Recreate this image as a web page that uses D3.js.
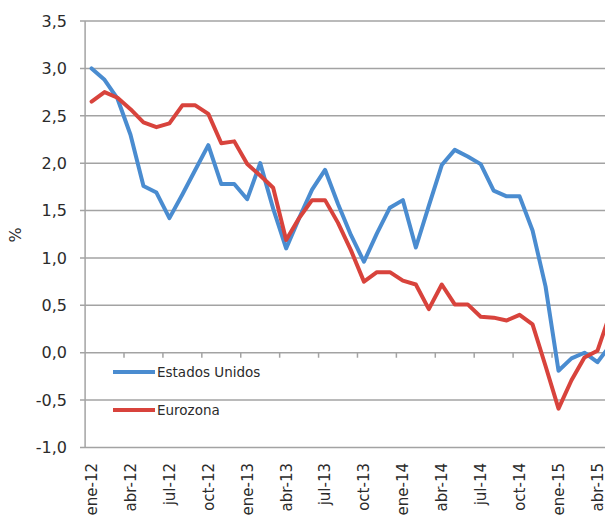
<!DOCTYPE html>
<html>
<head>
<meta charset="utf-8">
<script src="https://cdn.jsdelivr.net/npm/d3@7"></script>
<style>
  html, body { margin: 0; padding: 0; background: #fff; overflow: hidden; }
  svg { display: block; }
</style>
</head>
<body>
<div id="chart"></div>
<script>
const months = [
  "ene-12","feb-12","mar-12","abr-12","may-12","jun-12","jul-12","ago-12","sep-12","oct-12","nov-12","dic-12",
  "ene-13","feb-13","mar-13","abr-13","may-13","jun-13","jul-13","ago-13","sep-13","oct-13","nov-13","dic-13",
  "ene-14","feb-14","mar-14","abr-14","may-14","jun-14","jul-14","ago-14","sep-14","oct-14","nov-14","dic-14",
  "ene-15","feb-15","mar-15","abr-15","may-15"
];
const estadosUnidos = [
  3.00, 2.88, 2.68, 2.30, 1.76, 1.69, 1.42, 1.67, 1.93, 2.19, 1.78, 1.78,
  1.62, 2.00, 1.52, 1.10, 1.42, 1.72, 1.93, 1.57, 1.24, 0.96, 1.26, 1.53,
  1.61, 1.11, 1.55, 1.98, 2.14, 2.07, 1.99, 1.71, 1.65, 1.65, 1.29, 0.70,
  -0.19, -0.06, 0.00, -0.10, 0.08
];
const eurozona = [
  2.65, 2.75, 2.69, 2.57, 2.43, 2.38, 2.42, 2.61, 2.61, 2.52, 2.21, 2.23,
  1.99, 1.87, 1.74, 1.19, 1.42, 1.61, 1.61, 1.37, 1.08, 0.75, 0.85, 0.85,
  0.76, 0.72, 0.46, 0.72, 0.51, 0.51, 0.38, 0.37, 0.34, 0.40, 0.30, -0.14,
  -0.59, -0.29, -0.05, 0.02, 0.42
];
const yTicks = [-1.0, -0.5, 0.0, 0.5, 1.0, 1.5, 2.0, 2.5, 3.0, 3.5];
const seriesNames = ["Estados Unidos", "Eurozona"];
const seriesColors = ["#4a8cd0", "#d8433c"];

const W = 605, H = 518;
const plotLeft = 85.1, monthW = 12.97;
const svg = d3.select("#chart").append("svg").attr("width", W).attr("height", H);

const x = d3.scaleBand().domain(months).range([plotLeft, plotLeft + months.length * monthW]).padding(0);
const y = d3.scaleLinear().domain([-1, 3.5]).range([447.5, 21]);
const cx = m => x(m) + x.bandwidth() / 2;
const fmt = v => d3.format(".1f")(v).replace(".", ",").replace("−", "-");

const font = "DejaVu Sans";
const textColor = "#2b2b2b";
const gridColor = "#a3a3a3";

// gridlines + y ticks
svg.append("g").selectAll("line").data(yTicks).join("line")
  .attr("x1", 80).attr("x2", W)
  .attr("y1", d => y(d)).attr("y2", d => y(d))
  .attr("stroke", gridColor).attr("stroke-width", 1.5);

// y axis line
svg.append("line")
  .attr("x1", plotLeft).attr("x2", plotLeft)
  .attr("y1", y(3.5)).attr("y2", y(-1))
  .attr("stroke", gridColor).attr("stroke-width", 1.5);

// y tick labels
svg.append("g").selectAll("text").data(yTicks).join("text")
  .attr("x", 67).attr("y", d => y(d)).attr("dy", "0.36em")
  .attr("text-anchor", "end")
  .attr("font-family", font).attr("font-size", 16)
  .attr("fill", textColor)
  .text(d => fmt(d));

// y axis title
svg.append("text")
  .attr("transform", `translate(21,${235}) rotate(-90)`)
  .attr("text-anchor", "middle")
  .attr("font-family", font).attr("font-size", 16)
  .attr("fill", textColor)
  .text("%");

// x tick marks on zero line (category boundaries every 3 months)
const boundaryMonths = months.filter((m, i) => i > 0 && i % 3 === 0);
svg.append("g").selectAll("line").data(boundaryMonths).join("line")
  .attr("x1", d => x(d)).attr("x2", d => x(d))
  .attr("y1", y(0)).attr("y2", y(0) + 5)
  .attr("stroke", gridColor).attr("stroke-width", 1.5);

// x tick labels (every 3 months)
const labelMonths = months.filter((m, i) => i % 3 === 0);
svg.append("g").selectAll("text").data(labelMonths).join("text")
  .attr("transform", d => `translate(${cx(d)},463) rotate(-90)`)
  .attr("dy", "0.36em")
  .attr("text-anchor", "end")
  .attr("font-family", font).attr("font-size", 15)
  .attr("fill", textColor)
  .text(d => d);

// lines
const line = d3.line().x((d, i) => cx(months[i])).y(d => y(d));
[estadosUnidos, eurozona].forEach((s, k) => {
  svg.append("path").datum(s)
    .attr("d", line)
    .attr("fill", "none")
    .attr("stroke", seriesColors[k])
    .attr("stroke-width", 4)
    .attr("stroke-linejoin", "round")
    .attr("stroke-linecap", "round");
});

// legend
const legendY = [372, 410];
seriesNames.forEach((name, k) => {
  svg.append("line")
    .attr("x1", 113).attr("x2", 155)
    .attr("y1", legendY[k]).attr("y2", legendY[k])
    .attr("stroke", seriesColors[k]).attr("stroke-width", 4);
  svg.append("text")
    .attr("x", 157).attr("y", legendY[k]).attr("dy", "0.36em")
    .attr("font-family", font).attr("font-size", 13.5)
    .attr("fill", textColor)
    .text(name);
});
</script>
</body>
</html>
